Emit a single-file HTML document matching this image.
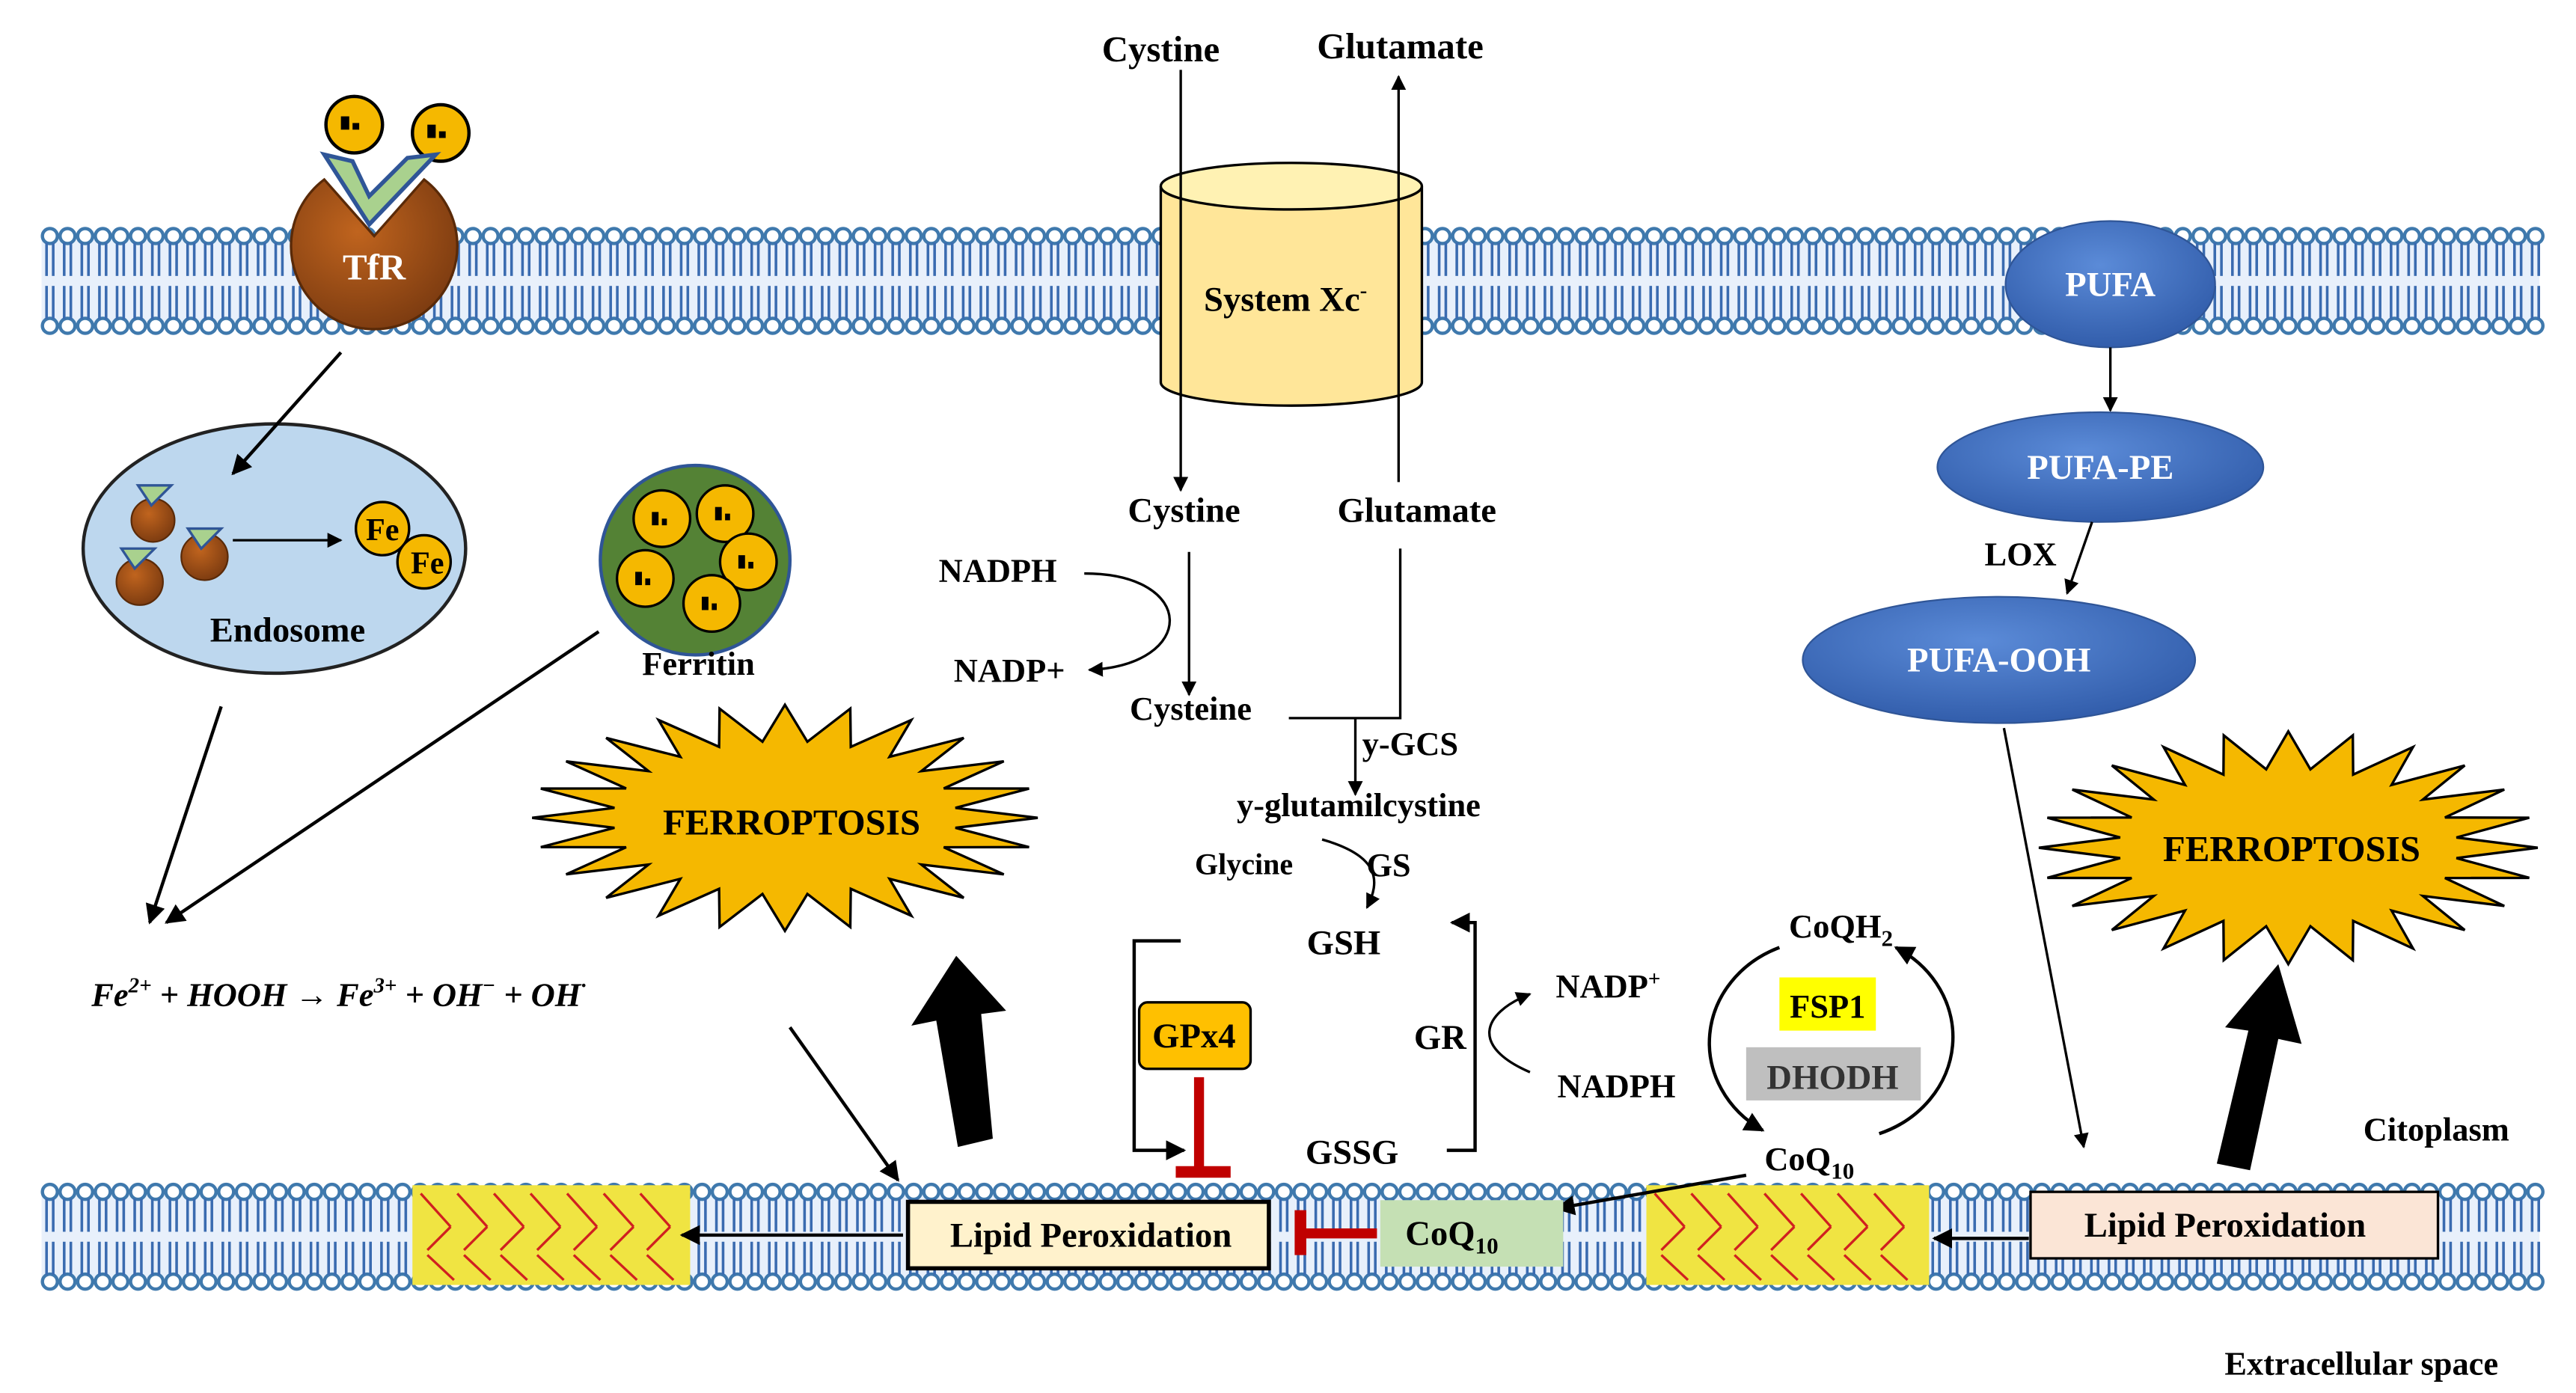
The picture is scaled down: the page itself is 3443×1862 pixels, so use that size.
<!DOCTYPE html>
<html><head><meta charset="utf-8"><style>
html,body{margin:0;padding:0;background:#fff;}
svg{display:block;}
text{font-family:"Liberation Serif",serif;font-weight:bold;fill:#000;}
</style></head><body>
<svg id="s" width="3443" height="1862" viewBox="0 0 1549 838" preserveAspectRatio="none" xmlns="http://www.w3.org/2000/svg">
<defs>
<marker id="ah" viewBox="0 0 10 10" refX="9" refY="5" markerWidth="6" markerHeight="6" orient="auto"><path d="M0,0 L10,5 L0,10 z" fill="#000"/></marker>
<radialGradient id="br" cx="0.4" cy="0.35" r="0.7"><stop offset="0" stop-color="#c0641e"/><stop offset="1" stop-color="#7a3a10"/></radialGradient>
<radialGradient id="bl" cx="0.45" cy="0.35" r="0.7"><stop offset="0" stop-color="#5b8bd8"/><stop offset="1" stop-color="#2f5aa8"/></radialGradient>
</defs>
<g id="mem"></g>
<rect x="248" y="713" width="167" height="60" fill="#f0e442"/>
<rect x="990" y="713" width="170" height="60" fill="#f0e442"/>
<g stroke="#d02020" stroke-width="1.5" id="zig"></g>

<!-- TfR -->
<circle cx="213" cy="75" r="17" fill="#f5b800" stroke="#000" stroke-width="2"/>
<circle cx="265" cy="80" r="17" fill="#f5b800" stroke="#000" stroke-width="2"/>
<rect x="205" y="70" width="5" height="8"/><rect x="212" y="74" width="4" height="4"/>
<rect x="257" y="75" width="5" height="8"/><rect x="264" y="79" width="4" height="4"/>
<path d="M225,142 L195,108 A50,50 0 1 0 255,108 Z" fill="url(#br)" stroke="#5a2a08" stroke-width="1.5"/>
<path d="M195,93 L222,135 L262,93 L245,95 L222,118 L212,97 Z" fill="#a9d18e" stroke="#2f5597" stroke-width="2.5"/>
<text x="225" y="168" text-anchor="middle" font-size="22" style="fill:#fff">TfR</text>

<!-- Endosome -->
<ellipse cx="165" cy="330" rx="115" ry="75" fill="#bdd7ee" stroke="#222" stroke-width="2"/>
<line x1="205" y1="212" x2="140" y2="285" stroke="#000" stroke-width="2" marker-end="url(#ah)"/>
<g fill="url(#br)" stroke="#5a2a08">
<circle cx="92" cy="313" r="13"/><circle cx="123" cy="335" r="14"/><circle cx="84" cy="350" r="14"/>
</g>
<g fill="#a9d18e" stroke="#2f5597" stroke-width="1.5">
<path d="M83,292 l8,12 l12,-12 z"/><path d="M113,318 l8,12 l12,-12 z"/><path d="M73,330 l8,12 l12,-12 z"/>
</g>
<line x1="140" y1="325" x2="205" y2="325" stroke="#000" stroke-width="1.5" marker-end="url(#ah)"/>
<circle cx="230" cy="318" r="16" fill="#f5b800" stroke="#000" stroke-width="1.5"/>
<circle cx="255" cy="338" r="16" fill="#f5b800" stroke="#000" stroke-width="1.5"/>
<text x="230" y="325" text-anchor="middle" font-size="19" font-weight="normal">Fe</text>
<text x="257" y="345" text-anchor="middle" font-size="19" font-weight="normal">Fe</text>
<text x="173" y="386" text-anchor="middle" font-size="21">Endosome</text>

<!-- Ferritin -->
<circle cx="418" cy="337" r="57" fill="#548235" stroke="#2f5597" stroke-width="2"/>
<g fill="#f5b800" stroke="#000" stroke-width="1.5">
<circle cx="398" cy="312" r="17"/><circle cx="436" cy="309" r="17"/><circle cx="450" cy="338" r="17"/>
<circle cx="388" cy="348" r="17"/><circle cx="428" cy="363" r="17"/>
</g>
<g fill="#000">
<rect x="392" y="308" width="4" height="8"/><rect x="398" y="312" width="3" height="4"/>
<rect x="430" y="305" width="4" height="8"/><rect x="436" y="309" width="3" height="4"/>
<rect x="444" y="334" width="4" height="8"/><rect x="450" y="338" width="3" height="4"/>
<rect x="382" y="344" width="4" height="8"/><rect x="388" y="348" width="3" height="4"/>
<rect x="422" y="359" width="4" height="8"/><rect x="428" y="363" width="3" height="4"/>
</g>
<text x="420" y="406" text-anchor="middle" font-size="20">Ferritin</text>
<line x1="133" y1="425" x2="90" y2="555" stroke="#000" stroke-width="2" marker-end="url(#ah)"/>
<line x1="360" y1="380" x2="100" y2="555" stroke="#000" stroke-width="2" marker-end="url(#ah)"/>

<text x="55" y="605" font-size="20" font-style="italic">Fe<tspan dy="-8" font-size="13">2+</tspan><tspan dy="8"> + HOOH →  Fe</tspan><tspan dy="-8" font-size="13">3+</tspan><tspan dy="8"> + OH</tspan><tspan dy="-8" font-size="13">−</tspan><tspan dy="8"> + OH</tspan><tspan dy="-8" font-size="13">·</tspan></text>
<line x1="475" y1="618" x2="540" y2="710" stroke="#000" stroke-width="2" marker-end="url(#ah)"/>

<polygon id="st1" fill="#f5b800" stroke="#000" stroke-width="1.5"/>
<polygon id="st2" fill="#f5b800" stroke="#000" stroke-width="1.5"/>
<text x="476" y="502" text-anchor="middle" font-size="22">FERROPTOSIS</text>
<text x="1378" y="518" text-anchor="middle" font-size="22">FERROPTOSIS</text>
<polygon points="576,690 597,685 590,610 605,608 575,575 548,617 563,614" fill="#000"/>
<polygon points="1333,700 1353,704 1370,625 1384,628 1370,580 1338,618 1352,620" fill="#000"/>

<!-- System Xc -->
<path d="M698,112 L698,230 A78.5,14 0 0 0 855,230 L855,112" fill="#ffe699" stroke="#000" stroke-width="1.5"/>
<ellipse cx="776.5" cy="112" rx="78.5" ry="14" fill="#fff2b3" stroke="#000" stroke-width="1.5"/>
<text x="773" y="187" text-anchor="middle" font-size="21">System Xc<tspan dy="-8" font-size="13">-</tspan></text>
<text x="698" y="37" text-anchor="middle" font-size="22">Cystine</text>
<text x="842" y="35" text-anchor="middle" font-size="22">Glutamate</text>
<line x1="710" y1="42" x2="710" y2="295" stroke="#000" stroke-width="1.5" marker-end="url(#ah)"/>
<line x1="841" y1="290" x2="841" y2="46" stroke="#000" stroke-width="1.5" marker-end="url(#ah)"/>
<text x="712" y="314" text-anchor="middle" font-size="21">Cystine</text>
<text x="852" y="314" text-anchor="middle" font-size="21">Glutamate</text>
<line x1="715" y1="332" x2="715" y2="418" stroke="#000" stroke-width="1.5" marker-end="url(#ah)"/>
<text x="600" y="350" text-anchor="middle" font-size="20">NADPH</text>
<text x="607" y="410" text-anchor="middle" font-size="20">NADP+</text>
<path d="M652,345 C720,345 720,400 655,403" fill="none" stroke="#000" stroke-width="1.5" marker-end="url(#ah)"/>
<text x="716" y="433" text-anchor="middle" font-size="20">Cysteine</text>
<polyline points="775,432 842,432 842,330" fill="none" stroke="#000" stroke-width="1.5"/>
<line x1="815" y1="432" x2="815" y2="478" stroke="#000" stroke-width="1.5" marker-end="url(#ah)"/>
<text x="848" y="454" text-anchor="middle" font-size="20">y-GCS</text>
<text x="817" y="491" text-anchor="middle" font-size="20">y-glutamilcystine</text>
<text x="748" y="526" text-anchor="middle" font-size="18">Glycine</text>
<text x="835" y="527" text-anchor="middle" font-size="20">GS</text>
<path d="M795,505 C830,515 830,530 822,546" fill="none" stroke="#000" stroke-width="1.5" marker-end="url(#ah)"/>
<text x="808" y="574" text-anchor="middle" font-size="21">GSH</text>
<text x="813" y="700" text-anchor="middle" font-size="21">GSSG</text>
<polyline points="710,566 682,566 682,692 712,692" fill="none" stroke="#000" stroke-width="2" marker-end="url(#ah)"/>
<rect x="685" y="603" width="67" height="40" rx="5" fill="#ffc000" stroke="#000" stroke-width="1.5"/>
<text x="718" y="630" text-anchor="middle" font-size="21">GPx4</text>
<line x1="721" y1="648" x2="721" y2="703" stroke="#c00000" stroke-width="6"/>
<line x1="707" y1="705" x2="740" y2="705" stroke="#c00000" stroke-width="7"/>
<polyline points="870,692 887,692 887,555 873,555" fill="none" stroke="#000" stroke-width="2" marker-end="url(#ah)"/>
<text x="866" y="631" text-anchor="middle" font-size="21">GR</text>
<path d="M920,645 C885,630 890,610 920,598" fill="none" stroke="#000" stroke-width="1.5" marker-end="url(#ah)"/>
<text x="967" y="600" text-anchor="middle" font-size="20">NADP<tspan dy="-7" font-size="13">+</tspan></text>
<text x="972" y="660" text-anchor="middle" font-size="20">NADPH</text>

<text x="1107" y="564" text-anchor="middle" font-size="20">CoQH<tspan dy="5" font-size="14">2</tspan></text>
<path d="M1070,570 A68,62 0 0 0 1060,680" fill="none" stroke="#000" stroke-width="2" marker-end="url(#ah)"/>
<path d="M1130,682 A68,62 0 0 0 1140,570" fill="none" stroke="#000" stroke-width="2" marker-end="url(#ah)"/>
<rect x="1070" y="588" width="58" height="32" fill="#ffff00"/>
<text x="1099" y="612" text-anchor="middle" font-size="20">FSP1</text>
<rect x="1050" y="630" width="105" height="32" fill="#bfbfbf"/>
<text x="1102" y="655" text-anchor="middle" font-size="21" style="fill:#333">DHODH</text>
<text x="1088" y="704" text-anchor="middle" font-size="20">CoQ<tspan dy="5" font-size="14">10</tspan></text>
<line x1="1050" y1="707" x2="936" y2="727" stroke="#000" stroke-width="2" marker-end="url(#ah)"/>
<rect x="830" y="722" width="110" height="40" fill="#c5e0b4"/>
<text x="873" y="749" text-anchor="middle" font-size="21">CoQ<tspan dy="5" font-size="14">10</tspan></text>
<line x1="828" y1="742" x2="783" y2="742" stroke="#c00000" stroke-width="6"/>
<line x1="782" y1="728" x2="782" y2="755" stroke="#c00000" stroke-width="7"/>
<rect x="546" y="723" width="217" height="40" fill="#fff2cc" stroke="#000" stroke-width="2.5"/>
<text x="656" y="750" text-anchor="middle" font-size="21">Lipid Peroxidation</text>
<line x1="543" y1="743" x2="410" y2="743" stroke="#000" stroke-width="2" marker-end="url(#ah)"/>

<ellipse cx="1269" cy="171" rx="63" ry="38" fill="url(#bl)" stroke="#2f5597"/>
<text x="1269" y="178" text-anchor="middle" font-size="21" style="fill:#fff">PUFA</text>
<line x1="1269" y1="209" x2="1269" y2="247" stroke="#000" stroke-width="1.5" marker-end="url(#ah)"/>
<ellipse cx="1263" cy="281" rx="98" ry="33" fill="url(#bl)" stroke="#2f5597"/>
<text x="1263" y="288" text-anchor="middle" font-size="21" style="fill:#fff">PUFA-PE</text>
<text x="1215" y="340" text-anchor="middle" font-size="20">LOX</text>
<line x1="1258" y1="314" x2="1243" y2="357" stroke="#000" stroke-width="1.5" marker-end="url(#ah)"/>
<ellipse cx="1202" cy="397" rx="118" ry="38" fill="url(#bl)" stroke="#2f5597"/>
<text x="1202" y="404" text-anchor="middle" font-size="21" style="fill:#fff">PUFA-OOH</text>
<line x1="1205" y1="438" x2="1253" y2="690" stroke="#000" stroke-width="1.5" marker-end="url(#ah)"/>
<rect x="1221" y="717" width="245" height="40" fill="#fbe5d6" stroke="#000" stroke-width="1.5"/>
<text x="1338" y="744" text-anchor="middle" font-size="21">Lipid Peroxidation</text>
<line x1="1220" y1="745" x2="1163" y2="745" stroke="#000" stroke-width="2" marker-end="url(#ah)"/>
<text x="1465" y="686" text-anchor="middle" font-size="20">Citoplasm</text>
<text x="1420" y="827" text-anchor="middle" font-size="20">Extracellular space</text>
</svg>
<script>
(function(){
var NS="http://www.w3.org/2000/svg",m=document.getElementById("mem");
function el(t,a,p){var e=document.createElementNS(NS,t);for(var k in a)e.setAttribute(k,a[k]);(p||m).appendChild(e);return e;}
function membrane(y0){
 el("rect",{x:25,y:y0+8,width:1502,height:50,fill:"#e8f0fb"});
 for(var x=30;x<1527;x+=10.6){
  el("circle",{cx:x,cy:y0+6,r:4.5,fill:"#fff",stroke:"#3f79ad","stroke-width":2});
  el("circle",{cx:x,cy:y0+60,r:4.5,fill:"#fff",stroke:"#3f79ad","stroke-width":2});
  el("line",{x1:x-2,y1:y0+10,x2:x-2,y2:y0+30,stroke:"#3a6bb0","stroke-width":1.6});
  el("line",{x1:x+2,y1:y0+10,x2:x+2,y2:y0+30,stroke:"#3a6bb0","stroke-width":1.6});
  el("line",{x1:x-2,y1:y0+36,x2:x-2,y2:y0+56,stroke:"#3a6bb0","stroke-width":1.6});
  el("line",{x1:x+2,y1:y0+36,x2:x+2,y2:y0+56,stroke:"#3a6bb0","stroke-width":1.6});
 }
}
membrane(136);membrane(711);
var z=document.getElementById("zig");
[[248,415],[990,1160]].forEach(function(r){
 for(var x=r[0]+5;x<r[1]-15;x+=22){
  el("line",{x1:x,y1:718,x2:x+18,y2:738},z);
  el("line",{x1:x+18,y1:738,x2:x+4,y2:752},z);
  el("line",{x1:x+4,y1:755,x2:x+20,y2:770},z);
 }
});
function star(id,cx,cy,rx,ry,n){
 var p=[];for(var i=0;i<2*n;i++){var a=Math.PI*i/n,f=i%2?0.68:1;p.push((cx+rx*f*Math.cos(a)).toFixed(1)+","+(cy+ry*f*Math.sin(a)).toFixed(1));}
 document.getElementById(id).setAttribute("points",p.join(" "));
}
star("st1",472,492,152,68,24);star("st2",1376,510,150,70,24);
})();
</script>
</body></html>
